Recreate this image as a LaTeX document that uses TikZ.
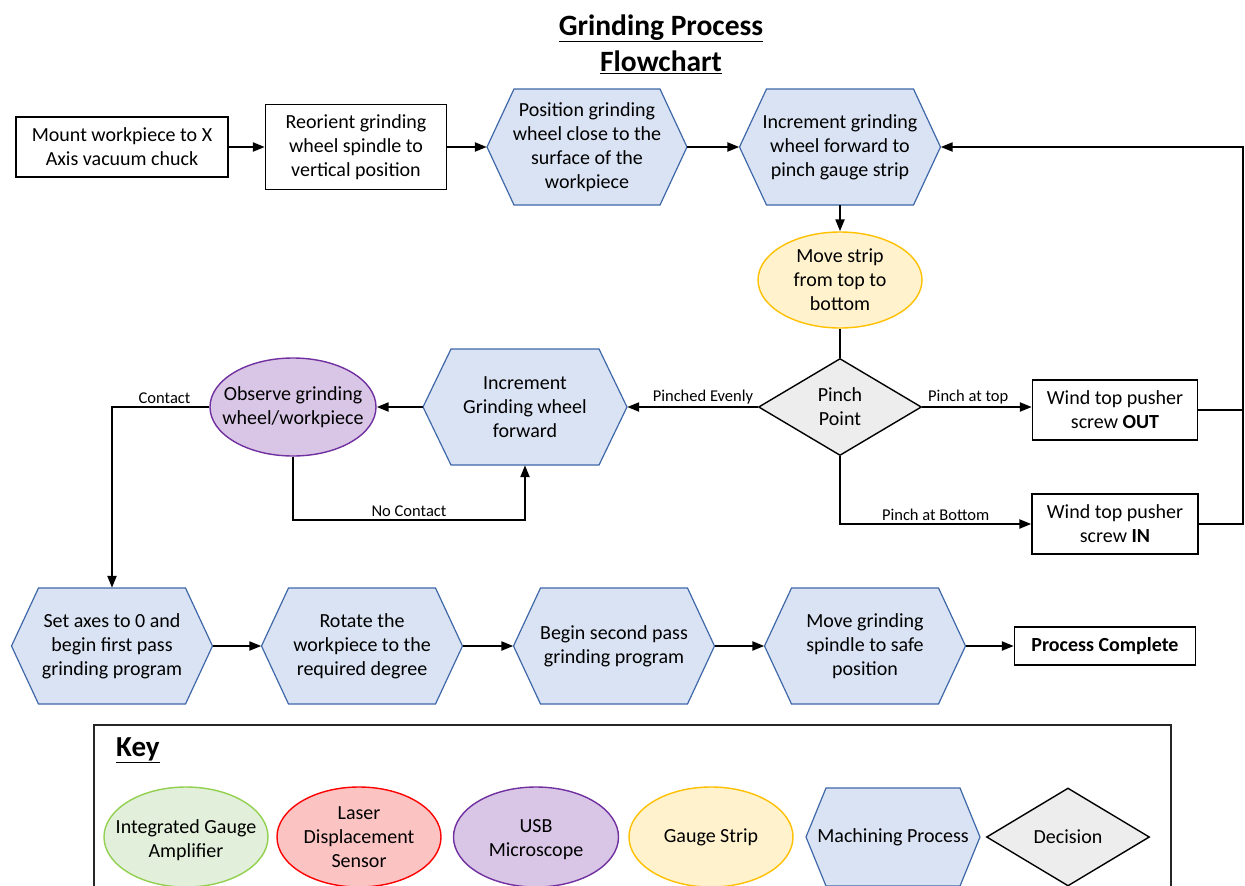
\documentclass[tikz,border=0pt]{standalone}
\usepackage{fontspec}
\setmainfont{Carlito}
\usetikzlibrary{arrows.meta,shapes.geometric,calc}

\definecolor{hexfill}{HTML}{DAE3F3}
\definecolor{hexline}{HTML}{3E68A8}
\definecolor{stripfill}{HTML}{FFF2CC}
\definecolor{stripline}{HTML}{FFC000}
\definecolor{micfill}{HTML}{D9C6E6}
\definecolor{micline}{HTML}{7030A0}
\definecolor{ampfill}{HTML}{E2EFDA}
\definecolor{ampline}{HTML}{92D050}
\definecolor{laserfill}{HTML}{FCC3C3}
\definecolor{laserline}{HTML}{FF0000}
\definecolor{decfill}{HTML}{EDEDED}
\definecolor{keyline}{HTML}{262626}

\newcommand\mainsize{\fontsize{20}{24}\selectfont}
\newcommand\labsize{\fontsize{16.5}{19}\selectfont}
\newcommand\titlesize{\fontsize{29.5}{36}\selectfont}
\newcommand\keyhdsize{\fontsize{29}{34}\selectfont}

\tikzset{
  conn/.style={draw=black, line width=2.2pt},
  arr/.style={conn, -{Triangle[length=12pt,width=9pt]}},
  plainbox/.style={draw=black, fill=white, line width=1.4pt, align=center,
    font=\mainsize, inner sep=0pt},
  hexpath/.style={draw=hexline, fill=hexfill, line width=1.2pt},
  hextext/.style={align=center, font=\mainsize, inner sep=0pt},
  oval/.style={ellipse, line width=1.4pt, inner sep=0pt},
  decide/.style={diamond, draw=black, fill=decfill, line width=1.4pt, inner sep=0pt},
  txt/.style={align=center, font=\mainsize, inner sep=0pt},
  edgelab/.style={font=\labsize, inner sep=2pt},
}

% hexagonal process step: name, cx, cy, width, height, tip length, text
\newcommand\hexnode[7]{%
  \path[hexpath, shift={(#2,#3)}]
    (-#4/2,0) -- (-#4/2+#6,-#5/2) -- (#4/2-#6,-#5/2) -- (#4/2,0)
    -- (#4/2-#6,#5/2) -- (-#4/2+#6,#5/2) -- cycle;
  \node[hextext, minimum width=#4, minimum height=#5] (#1) at (#2,#3) {#7};}

\begin{document}
\begin{tikzpicture}[x=1pt,y=-1pt]
\path[clip] (0,0) rectangle (1245,886);
\fill[white] (0,0) rectangle (1245,886);

% title
\node[font=\titlesize\bfseries, align=center, inner sep=0pt] (title) at (661,44)
  {\underline{Grinding Process}\\\underline{Flowchart}};

% top row
\node[plainbox, minimum width=212, minimum height=60] (mount) at (122,147)
  {Mount workpiece to X\\Axis vacuum chuck};
\node[plainbox, minimum width=181, minimum height=85] (reor) at (356,147)
  {Reorient grinding\\wheel spindle to\\vertical position};
\hexnode{posn}{587}{147}{200}{116}{27}{Position grinding\\wheel close to the\\surface of the\\workpiece}
\hexnode{incr}{840}{147}{201}{116}{27}{Increment grinding\\wheel forward to\\pinch gauge strip}

% gauge strip check and decision
\node[oval, draw=stripline, fill=stripfill, minimum width=164, minimum height=96] (strip) at (840,280) {};
\node[txt] (strip-t) at (strip) {Move strip\\from top to\\bottom};
\node[decide, minimum width=163, minimum height=97] (pinch) at (840,407) {};
\node[txt] (pinch-t) at (pinch) {Pinch\\Point};
\node[plainbox, minimum width=165, minimum height=60] (out) at (1115,410)
  {Wind top pusher\\screw \textbf{OUT}};
\node[plainbox, minimum width=166, minimum height=60] (in) at (1115,524)
  {Wind top pusher\\screw \textbf{IN}};
\coordinate (rt) at (1243,147);

% approach loop
\hexnode{fwd}{525}{407}{204}{116}{28}{Increment\\Grinding wheel\\forward}
\node[oval, draw=micline, fill=micfill, minimum width=166, minimum height=98] (obs) at (293,407) {};
\node[txt] (obs-t) at (obs) {Observe grinding\\wheel/workpiece};
\coordinate (ncl) at (293,520);

% bottom row
\hexnode{first}{112}{646}{201}{116}{27}{Set axes to 0 and\\begin first pass\\grinding program}
\hexnode{rot}{362}{646}{201}{116}{27}{Rotate the\\workpiece to the\\required degree}
\hexnode{second}{614}{646}{201}{116}{27}{Begin second pass\\grinding program}
\hexnode{safe}{865}{646}{201}{116}{27}{Move grinding\\spindle to safe\\position}
\node[plainbox, font=\mainsize\bfseries, minimum width=181, minimum height=38] (done) at (1105,646)
  {Process Complete};

% connectors
\draw[arr] (mount.east) -- (reor.west);
\draw[arr] (reor.east) -- (posn.west);
\draw[arr] (posn.east) -- (incr.west);
\draw[arr] (incr.south) -- (strip.north);
\draw[conn] (strip.south) -- (pinch.north);
\draw[arr] (pinch.east) -- node[edgelab, pos=0.42, above] (l-top) {Pinch at top} (pinch.east -| out.west);
\draw[arr] (pinch.south) |- node[edgelab, pos=0.75, above] (l-bot) {Pinch at Bottom} (in.west);
\draw[conn] (out.east) -- (out.east -| rt);
\draw[arr] (in.east) -| (rt) -- (incr.east);
\draw[arr] (pinch.west) -- node[edgelab, pos=0.42, above] (l-even) {Pinched Evenly} (fwd.east);
\draw[arr] (fwd.west) -- (obs.east);
\draw[arr] (obs.south) -- (ncl) -| node[edgelab, pos=0.25, above] (l-nc) {No Contact} (fwd.south);
\draw[arr] (obs.west) -| node[edgelab, pos=0.23, above] (l-c) {Contact} (first.north);
\draw[arr] (first.east) -- (rot.west);
\draw[arr] (rot.east) -- (second.west);
\draw[arr] (second.east) -- (safe.west);
\draw[arr] (safe.east) -- (done.west);

% key
\draw[draw=keyline, line width=1.4pt] (94,725) rectangle (1171,900);
\node[font=\keyhdsize\bfseries, anchor=west, inner sep=0pt] (keyhd) at (116,750) {\underline{Key}};
\node[oval, draw=ampline, fill=ampfill, minimum width=164, minimum height=100] (kamp) at (186,837) {};
\node[txt] (kamp-t) at ([yshift=-3pt]kamp.center) {Integrated Gauge\\Amplifier};
\node[oval, draw=laserline, fill=laserfill, minimum width=164, minimum height=100] (klas) at (359,837) {};
\node[txt] (klas-t) at (klas) {Laser\\Displacement\\Sensor};
\node[oval, draw=micline, fill=micfill, minimum width=165, minimum height=100] (kusb) at (536,837) {};
\node[txt] (kusb-t) at ([yshift=-3pt]kusb.center) {USB\\Microscope};
\node[oval, draw=stripline, fill=stripfill, minimum width=164, minimum height=100] (kstrip) at (711,837) {};
\node[txt] (kstrip-t) at (kstrip) {Gauge Strip};
\hexnode{kmach}{893}{837}{174}{98}{20}{Machining Process}
\node[decide, minimum width=163, minimum height=98] (kdec) at (1068,837) {};
\node[txt] (kdec-t) at (kdec) {Decision};
\end{tikzpicture}
\end{document}
